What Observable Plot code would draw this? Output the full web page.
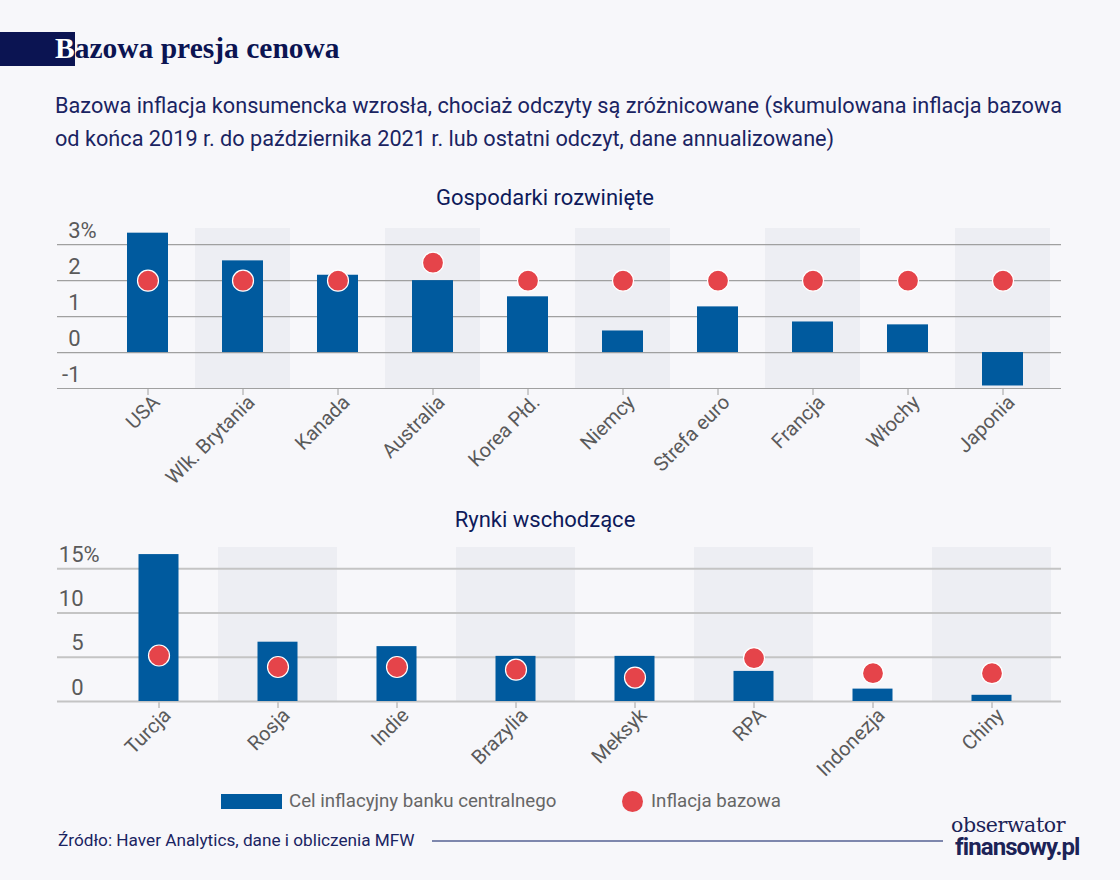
<!DOCTYPE html>
<html>
<head>
<meta charset="utf-8">
<script src="https://cdn.jsdelivr.net/npm/d3@7"></script>
<script src="https://cdn.jsdelivr.net/npm/@observablehq/plot@0.6"></script>
<style>
  body { margin: 0; background: #f7f7fa; }
  #page { position: relative; width: 1120px; height: 880px; overflow: hidden; background: #f7f7fa; font-family: Roboto, "Noto Sans", sans-serif; }
  .abs { position: absolute; white-space: nowrap; }
  #titlebox { left: 0; top: 32px; width: 75px; height: 34px; background: #0b1452; }
  #title { left: 55px; top: 31px; font-family: "Liberation Serif", "DejaVu Serif", serif; font-weight: bold; font-size: 29.5px; line-height: 34px; color: #0b1452; }
  #title span { color: #ffffff; }
  #subtitle { left: 55px; top: 89px; font-size: 21.7px; line-height: 33px; color: #1a2462; }
  .ptitle { width: 1090px; left: 0; text-align: center; font-size: 22px; line-height: 24px; color: #0e1a5a; }
  .chart { left: 0; }
  #leg1 { left: 221px; top: 794px; width: 61px; height: 15px; background: #005a9e; }
  #leg1t { left: 289px; top: 790px; font-size: 18.7px; line-height: 22px; color: #666; }
  #leg2 { left: 622px; top: 791px; width: 21px; height: 21px; border-radius: 50%; background: #e5444a; }
  #leg2t { left: 651px; top: 790px; font-size: 18.7px; line-height: 22px; color: #666; }
  #source { left: 58px; top: 830px; font-size: 17.2px; line-height: 20px; color: #1a2462; }
  #srcline { left: 432px; top: 840px; width: 511px; height: 2px; background: #7e87ad; }
  #logo1 { left: 951px; top: 816px; font-family: "DejaVu Serif", "Liberation Serif", serif; font-size: 20.5px; line-height: 18px; color: #1c2357; letter-spacing: -0.4px; }
  #logo2 { left: 955px; top: 838px; font-family: Roboto, sans-serif; font-weight: bold; font-size: 24px; line-height: 18px; color: #1c2357; letter-spacing: -0.9px; }
</style>
</head>
<body>
<div id="page">
  <div id="titlebox" class="abs"></div>
  <div id="title" class="abs"><span>B</span>azowa presja cenowa</div>
  <div id="subtitle" class="abs">Bazowa inflacja konsumencka wzrosła, chociaż odczyty są zróżnicowane (skumulowana inflacja bazowa<br>od końca 2019 r. do października 2021 r. lub ostatni odczyt, dane annualizowane)</div>
  <div id="pt1" class="abs ptitle" style="top:186px">Gospodarki rozwinięte</div>
  <div id="chart1" class="abs chart" style="top:200px"></div>
  <div id="pt2" class="abs ptitle" style="top:508px">Rynki wschodzące</div>
  <div id="chart2" class="abs chart" style="top:520px"></div>
  <div id="leg1" class="abs"></div>
  <div id="leg1t" class="abs">Cel inflacyjny banku centralnego</div>
  <div id="leg2" class="abs"></div>
  <div id="leg2t" class="abs">Inflacja bazowa</div>
  <div id="source" class="abs">Źródło: Haver Analytics, dane i obliczenia MFW</div>
  <div id="srcline" class="abs"></div>
  <div id="logo1" class="abs">obserwator</div>
  <div id="logo2" class="abs">finansowy.pl</div>
</div>
<script>
// ---- Data ----
const devCategories = ["USA", "Wlk. Brytania", "Kanada", "Australia", "Korea Płd.", "Niemcy", "Strefa euro", "Francja", "Włochy", "Japonia"];
const devBars = [3.32, 2.55, 2.15, 2.0, 1.55, 0.6, 1.27, 0.85, 0.77, -0.93];
const devDots = [2, 2, 2, 2.5, 2, 2, 2, 2, 2, 2];
const devTicks = [-1, 0, 1, 2, 3];

const emCategories = ["Turcja", "Rosja", "Indie", "Brazylia", "Meksyk", "RPA", "Indonezja", "Chiny"];
const emBars = [16.6, 6.7, 6.2, 5.1, 5.1, 3.4, 1.4, 0.7];
const emDots = [5.2, 3.9, 3.9, 3.6, 2.7, 4.9, 3.2, 3.2];
const emTicks = [0, 5, 10, 15];

const BAR = "#005a9e", DOT = "#e5444a", BAND = "#edeef3", LABEL = "#5a5a5a";

function panel({cats, bars, dots, ticks, domain, height, marginTop, marginBottom, barInset, gridColor, gridWidth, labelDx, labelDy}) {
  const rows = cats.map((c, i) => ({name: c, bar: bars[i], dot: dots[i]}));
  const shaded = cats.filter((c, i) => i % 2 === 1);
  const topTick = ticks[ticks.length - 1];
  return Plot.plot({
    width: 1120,
    height,
    marginLeft: 57,
    marginRight: 59,
    marginTop,
    marginBottom,
    style: {background: "transparent", fontFamily: "Roboto, sans-serif", fontSize: "17px", color: "#a0a0a0", overflow: "visible"},
    x: {domain: cats, padding: 0, insetLeft: 40, insetRight: 8, label: null, tickSize: 7, tickFormat: () => ""},
    y: {domain, axis: null},
    marks: [
      Plot.cell(shaded, {x: d => d, fill: BAND, inset: 0}),
      Plot.ruleY(ticks, {stroke: gridColor, strokeWidth: gridWidth}),
      Plot.barY(rows, {x: "name", y: "bar", fill: BAR, insetLeft: barInset, insetRight: barInset}),
      Plot.dot(rows, {x: "name", y: "dot", r: 10.5, fill: DOT, stroke: "#ffffff", strokeWidth: 1.2}),
      Plot.text(cats, {x: d => d, text: d => d, frameAnchor: "bottom", rotate: -45, textAnchor: "end", dx: 13, dy: 15, fontSize: 20, fill: LABEL}),
      Plot.text(ticks, {y: d => d, text: d => String(d), frameAnchor: "left", textAnchor: "end", dx: labelDx, dy: labelDy, fontSize: 22, fill: LABEL}),
      Plot.text([topTick], {y: d => d, text: () => "%", frameAnchor: "left", textAnchor: "start", dx: labelDx, dy: labelDy, fontSize: 22, fill: LABEL})
    ]
  });
}

document.getElementById("chart1").appendChild(panel({
  cats: devCategories, bars: devBars, dots: devDots, ticks: devTicks,
  domain: [-1, 3.45], height: 300, marginTop: 28, marginBottom: 112,
  barInset: 27, gridColor: "#a0a0a0", gridWidth: 1.2, labelDx: 23, labelDy: -14
}));

document.getElementById("chart2").appendChild(panel({
  cats: emCategories, bars: emBars, dots: emDots, ticks: emTicks,
  domain: [0, 17.4], height: 270, marginTop: 27, marginBottom: 89,
  barInset: 39.5, gridColor: "#c4c4c4", gridWidth: 2, labelDx: 26, labelDy: -14
}));
</script>
</body>
</html>
